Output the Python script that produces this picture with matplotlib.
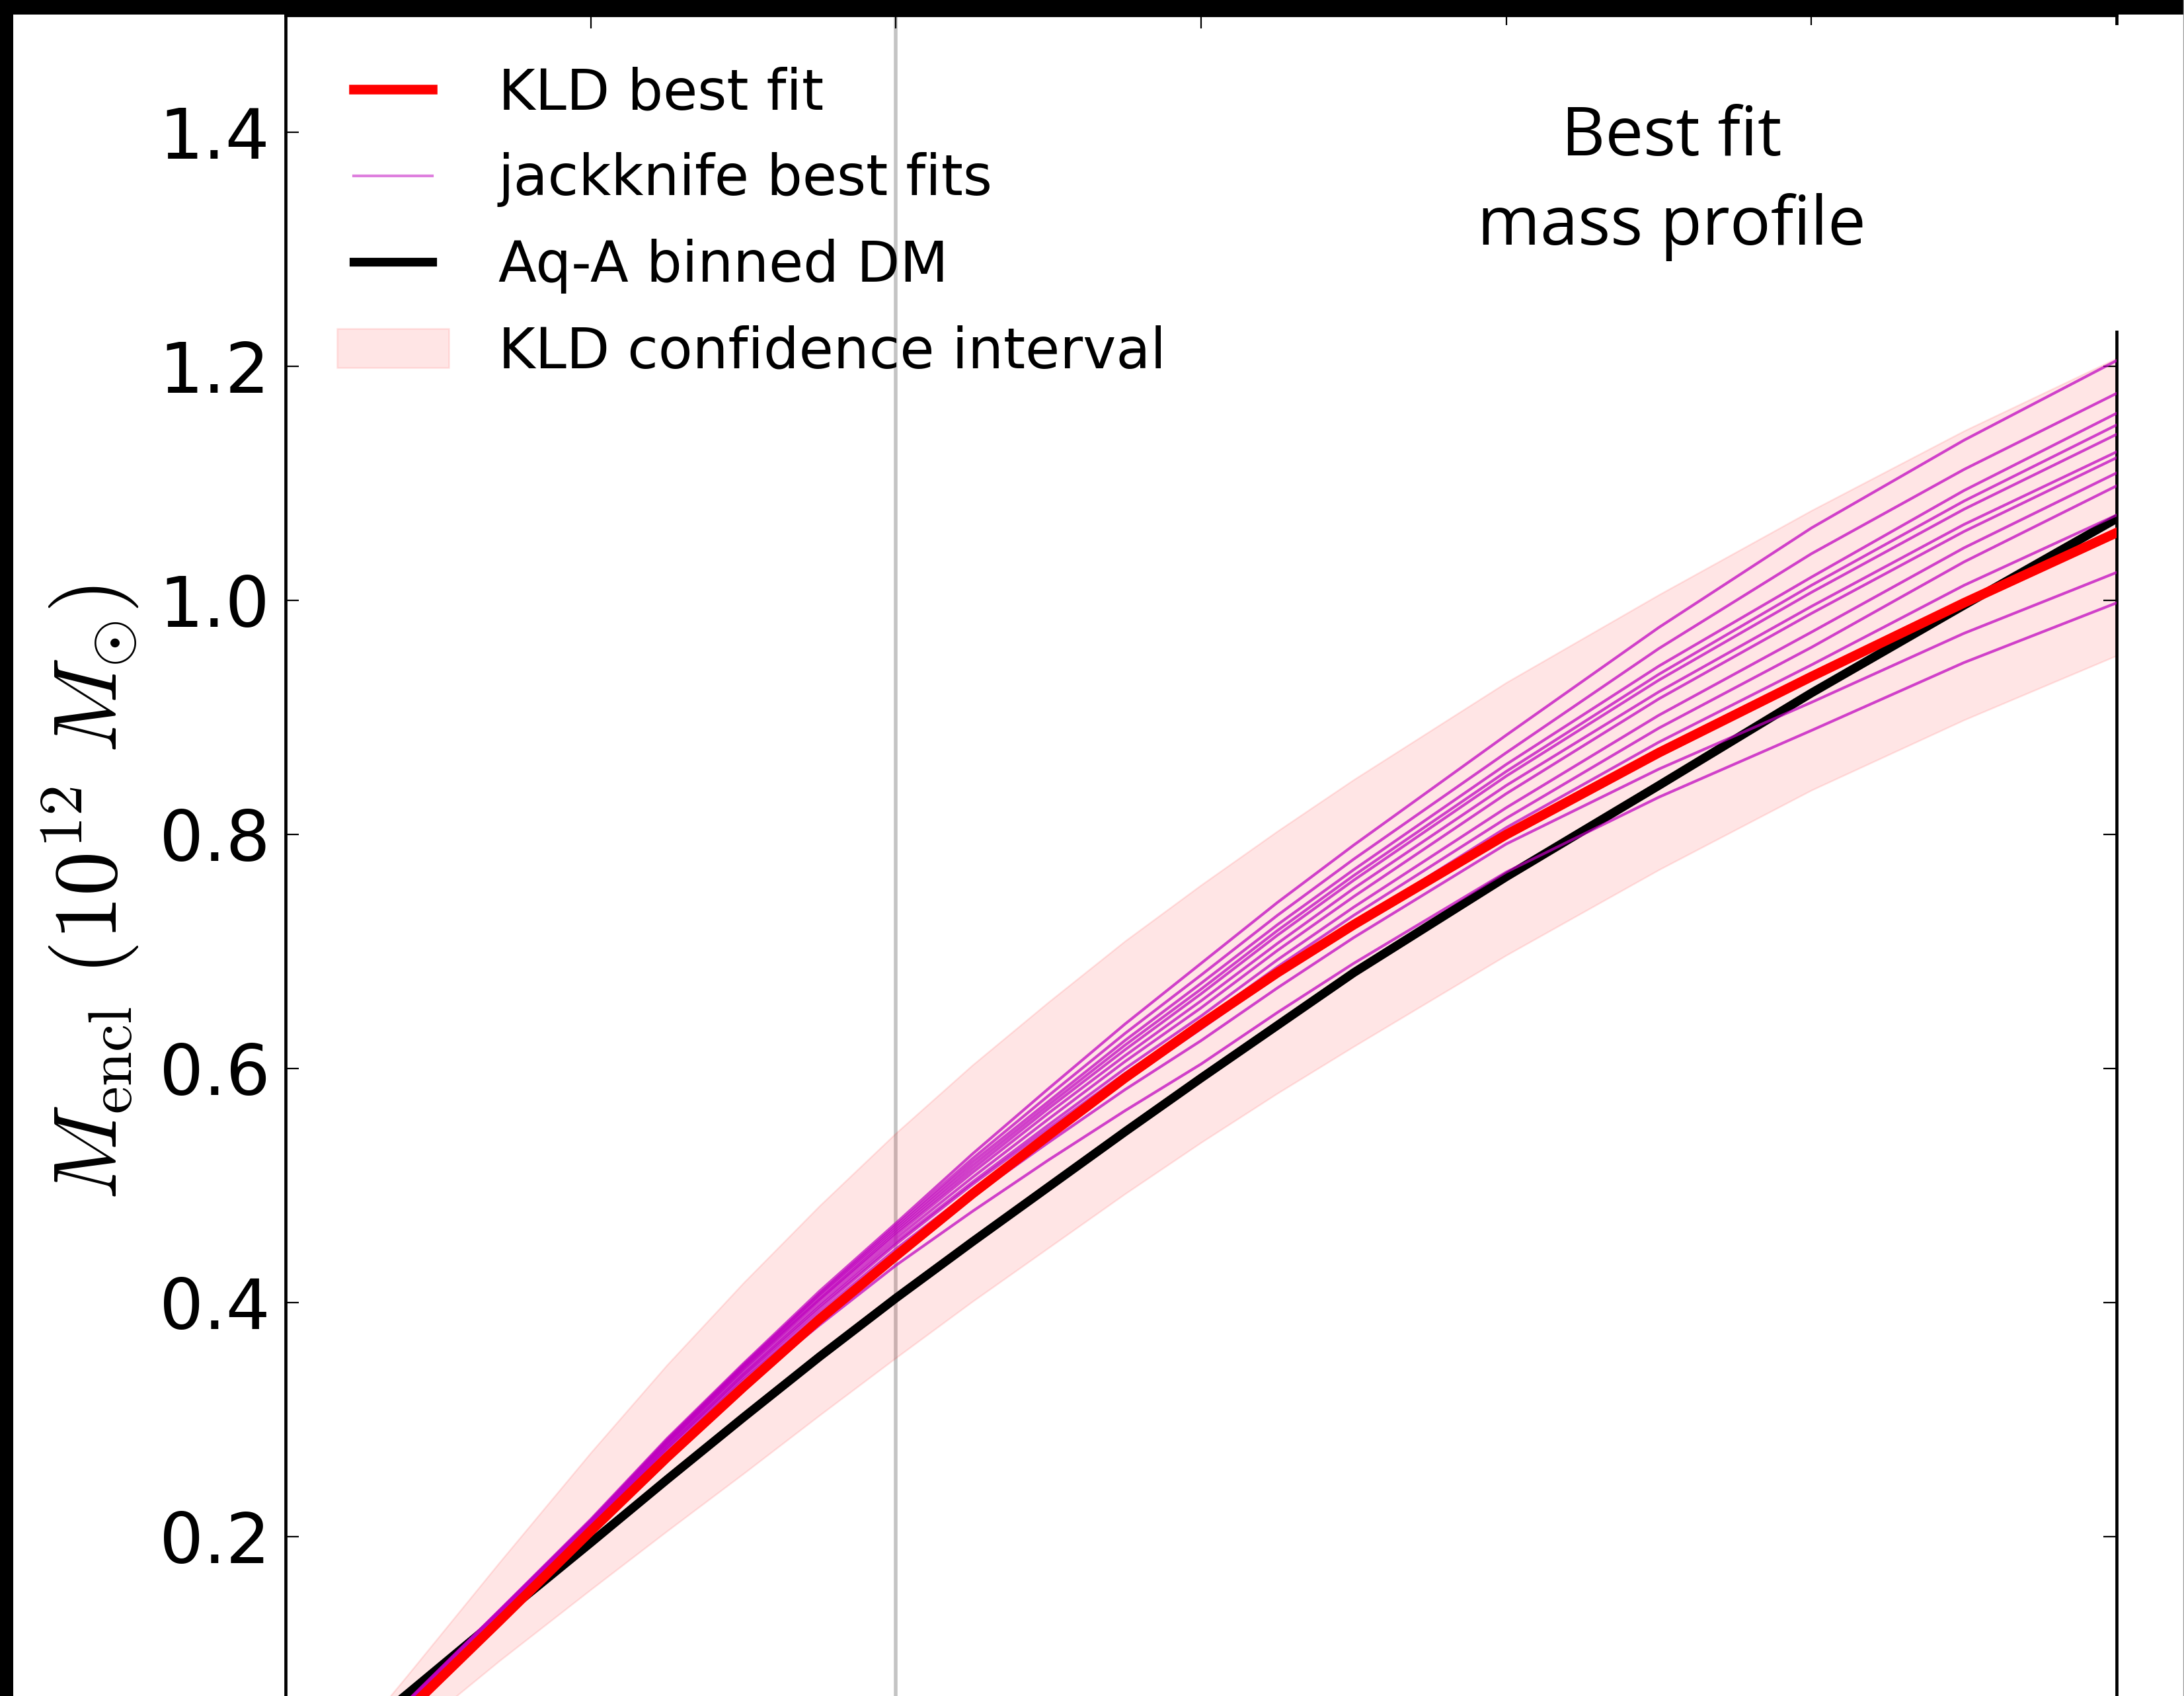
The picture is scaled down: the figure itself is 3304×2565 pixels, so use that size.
import numpy as np
import matplotlib
matplotlib.use("Agg")
import matplotlib.pyplot as plt
from matplotlib.patches import Rectangle
from matplotlib.lines import Line2D

# ---------------- data ----------------
r_kpc = [10, 20, 35, 50, 62.5, 75, 87.5, 100, 112.5, 125, 137.5, 150, 162.5,
         175, 200, 225, 250, 275, 300]

kld_best_fit = [0.005, 0.052, 0.128, 0.205, 0.268, 0.328, 0.386, 0.440, 0.493,
                0.543, 0.592, 0.638, 0.682, 0.723, 0.800, 0.870, 0.935, 0.998, 1.058]
aqa_binned_dm = [0.023, 0.066, 0.131, 0.195, 0.249, 0.302, 0.354, 0.404, 0.452,
                 0.499, 0.546, 0.592, 0.637, 0.682, 0.764, 0.842, 0.921, 0.996, 1.070]
kld_ci_upper = [0.019, 0.082, 0.178, 0.272, 0.347, 0.417, 0.483, 0.545, 0.603,
                0.657, 0.709, 0.757, 0.803, 0.847, 0.930, 1.005, 1.077, 1.145, 1.207]
kld_ci_lower = [0.000, 0.030, 0.094, 0.155, 0.205, 0.254, 0.304, 0.353, 0.401,
                0.447, 0.493, 0.537, 0.579, 0.619, 0.697, 0.770, 0.838, 0.898, 0.953]

jackknife_fits = [
    [.008, .060, .137, .215, .284, .348, .410, .468, .527, .583, .638, .690, .742, .791, .885, .977, 1.062, 1.137, 1.205],
    [.008, .060, .137, .214, .283, .347, .408, .466, .523, .577, .630, .680, .731, .779, .870, .959, 1.040, 1.112, 1.177],
    [.008, .059, .136, .214, .282, .346, .407, .464, .520, .572, .624, .673, .723, .770, .860, .944, 1.020, 1.094, 1.160],
    [.008, .059, .136, .213, .281, .345, .405, .462, .517, .569, .620, .668, .718, .765, .854, .937, 1.013, 1.085, 1.150],
    [.008, .059, .136, .213, .280, .344, .403, .460, .514, .566, .616, .664, .714, .761, .850, .932, 1.007, 1.078, 1.142],
    [.008, .058, .135, .212, .279, .343, .402, .458, .511, .562, .611, .658, .707, .754, .842, .922, .995, 1.065, 1.127],
    [.008, .058, .135, .211, .278, .341, .399, .455, .507, .557, .606, .652, .701, .747, .835, .916, .989, 1.059, 1.122],
    [.008, .058, .134, .210, .276, .339, .397, .452, .503, .552, .600, .645, .693, .738, .823, .902, .973, 1.045, 1.109],
    [.008, .057, .134, .210, .276, .338, .395, .450, .501, .549, .596, .640, .687, .731, .814, .891, .960, 1.033, 1.098],
    [.008, .057, .133, .209, .274, .336, .392, .446, .496, .544, .590, .634, .680, .724, .806, .879, .945, 1.013, 1.073],
    [.008, .057, .132, .207, .272, .334, .389, .442, .491, .537, .582, .624, .669, .712, .792, .856, .913, .972, 1.024],
    [.008, .056, .130, .203, .267, .328, .381, .432, .478, .522, .564, .604, .648, .690, .768, .832, .889, .947, .998],
]

marker_r = 100          # vertical reference line
xlim = (0, 300)
ylim = (0, 1.5)
xticks = [0, 50, 100, 150, 200, 250, 300]
yticks = [0.2, 0.4, 0.6, 0.8, 1.0, 1.2, 1.4]
ytick_labels = ["0.2", "0.4", "0.6", "0.8", "1.0", "1.2", "1.4"]

# ---------------- figure ----------------
plt.rcParams["font.family"] = ["DejaVu Sans"]
plt.rcParams["mathtext.fontset"] = "cm"

W, H = 3304, 2565
fig = plt.figure(figsize=(W / 100, H / 100), dpi=100, facecolor="white")

ax_left, ax_right = 432, 3202
ax_top, ax_bottom = 23.2, 2678.4
ax = fig.add_axes([ax_left / W, 1 - ax_bottom / H,
                   (ax_right - ax_left) / W, (ax_bottom - ax_top) / H])

ax.axvline(marker_r, color="#c4c4c4", lw=4.0, zorder=0.5)

ax.fill_between(r_kpc, kld_ci_lower, kld_ci_upper, color="r", alpha=0.1,
                lw=1.8, zorder=1, label="KLD confidence interval")
ax.plot(r_kpc, aqa_binned_dm, color="k", lw=9.5, zorder=2,
        solid_capstyle="projecting", solid_joinstyle="round",
        label="Aq-A binned DM")
for jk in jackknife_fits:
    ax.plot(r_kpc, jk, color="m", alpha=0.72, lw=3.0, zorder=3,
            solid_joinstyle="round")
ax.plot(r_kpc, kld_best_fit, color="r", lw=10.5, zorder=4,
        solid_capstyle="projecting", solid_joinstyle="round",
        label="KLD best fit")

ax.set_xlim(*xlim)
ax.set_ylim(*ylim)
ax.set_xticks(xticks)
ax.set_yticks(yticks)
ax.set_yticklabels(ytick_labels)
ax.tick_params(axis="both", which="both", direction="in", top=True, right=True,
               length=14.5, width=1.6, labelsize=76, pad=17,
               labelbottom=False)
for sp in ax.spines.values():
    sp.set_linewidth(3.4)

ax.set_ylabel(r"$M_{\rm encl}\ (10^{12}\ M_{\odot})$", fontsize=97)
ax.yaxis.set_label_coords(136 / W, 1 - 1350 / H, transform=fig.transFigure)
ax.yaxis.label.set_va("center")
ax.yaxis.label.set_rotation_mode("default")

handles, labels = ax.get_legend_handles_labels()
hmap = dict(zip(labels, handles))
hmap["jackknife best fits"] = Line2D([], [], color="m", alpha=0.5, lw=3.0)
order = ["KLD best fit", "jackknife best fits", "Aq-A binned DM", "KLD confidence interval"]
leg = ax.legend([hmap[k] for k in order], order, loc="upper left",
                bbox_to_anchor=(510 / W, 1 - 100 / H), bbox_transform=fig.transFigure,
                frameon=False, fontsize=61, numpoints=2, handlelength=2.0,
                handleheight=0.7, handletextpad=0.88, labelspacing=0.56,
                borderpad=0, borderaxespad=0)

# framing of the cropped screenshot
fig.add_artist(Rectangle((2150 / W, 1 - 500 / H), (3296 - 2150) / W, (500 - 38) / H,
                         transform=fig.transFigure, facecolor="white",
                         edgecolor="none", zorder=5))
fig.text(2529 / W, 1 - 276 / H, "Best fit\nmass profile", ha="center", va="center",
         fontsize=74, family=["Open Sans", "DejaVu Sans"], linespacing=1.4,
         zorder=6)
fig.add_artist(Rectangle((0, 1 - 22 / H), 1, 22 / H, transform=fig.transFigure,
                         facecolor="black", edgecolor="none", zorder=10))
fig.add_artist(Rectangle((0, 0), 20 / W, 1, transform=fig.transFigure,
                         facecolor="black", edgecolor="none", zorder=10))
fig.add_artist(Line2D([1 - 1.5 / W, 1 - 1.5 / W], [0, 1], transform=fig.transFigure,
                      color="#9a9a9a", lw=1.0, zorder=10))

fig.savefig("out.png", dpi=100, facecolor="white")
